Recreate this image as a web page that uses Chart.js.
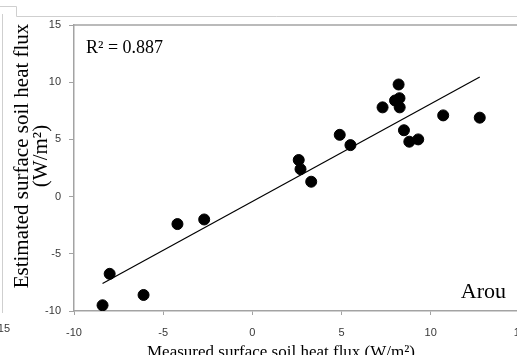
<!DOCTYPE html>
<html><head><meta charset="utf-8">
<script src="https://cdn.jsdelivr.net/npm/chart.js@4/dist/chart.umd.min.js"></script>
<style>
html,body{margin:0;padding:0;overflow:hidden;background:#fff;width:517px;height:355px;}
#wrap{position:absolute;left:0;top:0;width:537px;height:355px;}
</style></head><body>
<div id="wrap"><canvas id="c" width="537" height="355"></canvas></div>
<script>
// Data
const measured  = [-8.4, -8.0, -6.1, -4.2, -2.7, 2.6, 2.7, 3.3, 4.9, 5.5, 7.3, 8.2, 8.0, 8.25, 8.26, 8.5, 8.8, 9.3, 10.7, 12.75];
const estimated = [-9.5, -6.75, -8.6, -2.4, -2.0, 3.2, 2.4, 1.3, 5.4, 4.5, 7.8, 9.8, 8.4, 8.6, 7.8, 5.8, 4.8, 5.0, 7.1, 6.9];
const xTickValues = [-10, -5, 0, 5, 10, 15];
const yTickValues = [-10, -5, 0, 5, 10, 15];
const r2Label = 'R\u00B2 = 0.887';
const siteLabel = 'Arou';
const xTitle = 'Measured surface soil heat flux (W/m\u00B2)';
const yTitle = ['Estimated surface soil heat flux', '(W/m\u00B2)'];

// Linear trend line (least squares) from the data
const n = measured.length;
const mx = measured.reduce((a,b)=>a+b,0)/n;
const my = estimated.reduce((a,b)=>a+b,0)/n;
let sxy=0, sxx=0;
for(let i=0;i<n;i++){ sxy+=(measured[i]-mx)*(estimated[i]-my); sxx+=(measured[i]-mx)**2; }
const slope = sxy/sxx, intercept = my - slope*mx;
const xMin = Math.min(...measured), xMax = Math.max(...measured);
const trend = [{x:xMin, y:intercept+slope*xMin}, {x:xMax, y:intercept+slope*xMax}];

const points = measured.map((v,i)=>({x:v, y:estimated[i]}));
const SERIF = '"Liberation Serif","Times New Roman",serif';
const SANS = '"Liberation Sans",Arial,sans-serif';
const AXIS = '#a3a3a3';

const deco = {
  id:'deco',
  beforeDraw(chart){
    const ctx = chart.ctx, a = chart.chartArea;
    ctx.save();
    ctx.fillStyle='#fff'; ctx.fillRect(0,0,chart.width,chart.height);
    ctx.strokeStyle='#cfcfcf'; ctx.lineWidth=1;
    ctx.beginPath();
    ctx.moveTo(0,6.5); ctx.lineTo(16.5,6.5); ctx.lineTo(16.5,16.5); ctx.lineTo(chart.width,16.5);
    ctx.moveTo(2.5,14); ctx.lineTo(2.5,313);
    ctx.stroke();
    ctx.fillStyle='#383838'; ctx.font='11px '+SANS; ctx.textAlign='right'; ctx.textBaseline='middle';
    ctx.fillText('15', 10, 329);
    ctx.strokeStyle=AXIS; ctx.lineWidth=1.5;
    ctx.beginPath(); ctx.moveTo(a.left,a.top); ctx.lineTo(a.right,a.top); ctx.stroke();
    ctx.restore();
  },
  afterDraw(chart){
    const ctx = chart.ctx;
    ctx.save();
    ctx.fillStyle='#000';
    ctx.font='18px '+SERIF; ctx.textAlign='left'; ctx.textBaseline='middle';
    ctx.fillText(r2Label, 86, 48);
    ctx.font='22px '+SERIF; ctx.textAlign='right';
    ctx.fillText(siteLabel, 506, 292);
    ctx.font='17px '+SERIF; ctx.textAlign='center'; ctx.textBaseline='alphabetic';
    ctx.fillText(xTitle, 281, 357);
    ctx.font='21px '+SERIF; ctx.textBaseline='middle';
    ctx.translate(22,156); ctx.rotate(-Math.PI/2);
    ctx.fillText(yTitle[0], 0, 0);
    ctx.fillText(yTitle[1], 0, 19);
    ctx.restore();
  }
};

new Chart(document.getElementById('c'), {
  type:'scatter',
  data:{ datasets:[
    { type:'scatter', data:points, backgroundColor:'#000', borderColor:'#000', pointRadius:5.5, pointHoverRadius:5.5, order:1 },
    { type:'line', data:trend, borderColor:'#000', borderWidth:1.2, pointRadius:0, fill:false, order:2 }
  ]},
  options:{
    responsive:false, animation:false, devicePixelRatio:1,
    layout:{ padding:{left:0, right:11, top:25, bottom:0} },
    plugins:{ legend:{display:false}, tooltip:{enabled:false} },
    scales:{
      x:{ type:'linear', min:-10, max:15,
        afterBuildTicks(s){ s.ticks = xTickValues.map(v=>({value:v})); },
        afterFit(s){ s.height = 44; },
        border:{display:true, color:AXIS, width:1.5},
        grid:{display:true, drawOnChartArea:false, drawTicks:true, tickLength:4, color:AXIS},
        ticks:{ padding:11, color:'#383838', font:{family:SANS, size:11}, maxRotation:0 }
      },
      y:{ type:'linear', min:-10, max:15,
        afterBuildTicks(s){ s.ticks = yTickValues.map(v=>({value:v})); },
        afterFit(s){ s.width = 74; },
        border:{display:true, color:AXIS, width:1.5},
        grid:{display:true, drawOnChartArea:false, drawTicks:true, tickLength:5, color:AXIS},
        ticks:{ padding:8, color:'#383838', font:{family:SANS, size:11} }
      }
    }
  },
  plugins:[deco]
});
</script></body></html>
